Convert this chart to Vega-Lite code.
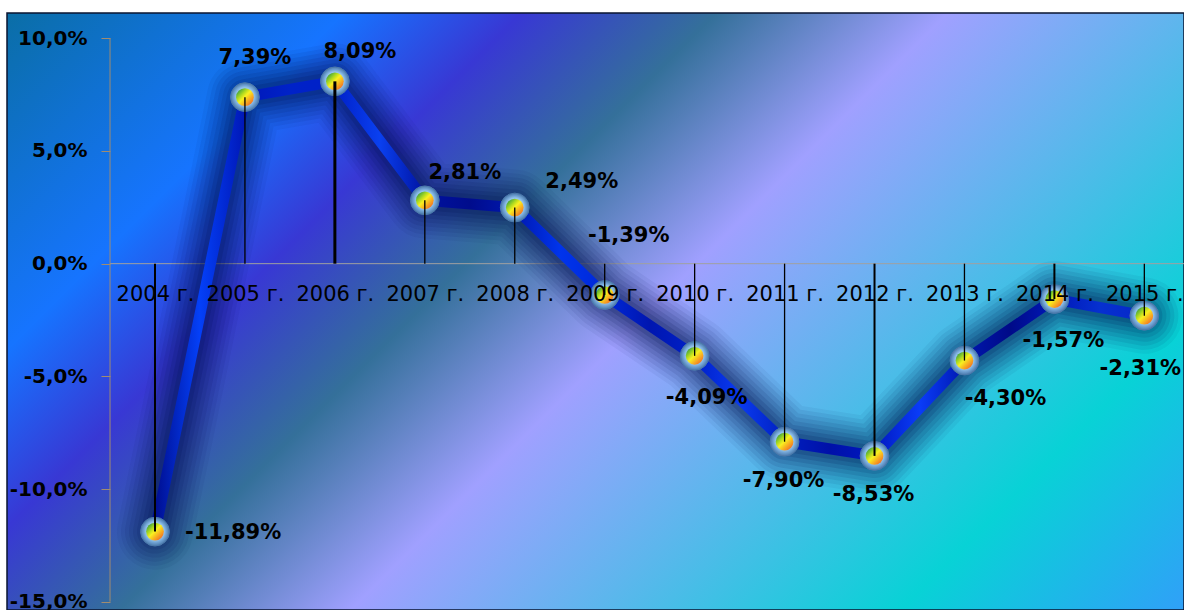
{
  "$schema": "https://vega.github.io/schema/vega-lite/v6.json",
  "width": 1177,
  "height": 597,
  "autosize": {"type": "none"},
  "padding": {"left": 7, "top": 13, "right": 0, "bottom": 0},
  "background": "#ffffff",
  "view": {
    "fill": {
      "gradient": "linear", "x1": 0, "y1": 0, "x2": 1.1987, "y2": 0.608,
      "stops": [
        {"offset": 0, "color": "#0a6ea6"},
        {"offset": 0.19, "color": "#1674ff"},
        {"offset": 0.29, "color": "#3838d4"},
        {"offset": 0.40, "color": "#34709a"},
        {"offset": 0.53, "color": "#a0a0ff"},
        {"offset": 0.84, "color": "#08d2d6"},
        {"offset": 1, "color": "#30a0f8"}
      ]
    },
    "stroke": "#0a1530",
    "strokeWidth": 1.5
  },
  "config": {
    "locale": {"number": {"decimal": ",", "thousands": " ", "grouping": [3], "currency": ["", ""], "minus": "-"}}
  },
  "data": {
    "values": [
      {"year": 2004, "value": -0.1189},
      {"year": 2005, "value": 0.0739},
      {"year": 2006, "value": 0.0809},
      {"year": 2007, "value": 0.0281},
      {"year": 2008, "value": 0.0249},
      {"year": 2009, "value": -0.0139},
      {"year": 2010, "value": -0.0409},
      {"year": 2011, "value": -0.0790},
      {"year": 2012, "value": -0.0853},
      {"year": 2013, "value": -0.0430},
      {"year": 2014, "value": -0.0157},
      {"year": 2015, "value": -0.0231}
    ]
  },
  "encoding": {
    "x": {
      "field": "year", "type": "quantitative", "title": null,
      "scale": {"domain": [2002.3545, 2015.441], "nice": false, "zero": false},
      "axis": {
        "title": null, "values": [2004, 2005, 2006, 2007, 2008, 2009, 2010, 2011, 2012, 2013, 2014, 2015],
        "labelExpr": "datum.value + ' г.'", "offset": -346.3, "domain": false, "ticks": false, "tickSize": 0,
        "grid": false, "labelFont": "DejaVu Sans", "labelFontSize": 21, "labelColor": "#000000",
        "labelPadding": 20, "labelFlush": false, "labelOverlap": false, "labelBound": false, "zindex": 1
      }
    },
    "y": {
      "field": "value", "type": "quantitative", "title": null,
      "scale": {"domain": [-0.15368, 0.11123], "nice": false, "zero": false},
      "axis": {
        "title": null, "values": [-0.15, -0.1, -0.05, 0, 0.05, 0.1], "format": ".1%", "offset": -103,
        "domain": false, "ticks": true, "tickSize": 9, "tickColor": "#a08c70", "tickWidth": 1, "grid": false,
        "labelFont": "DejaVu Sans", "labelFontWeight": "bold", "labelFontSize": 20, "labelColor": "#000000",
        "labelPadding": 14, "labelFlush": false, "labelOverlap": false, "labelBound": false
      }
    }
  },
  "layer": [
    {
      "transform": [{"filter": "datum.year == 2004"}],
      "mark": {"type": "rule", "color": "#a0a0a0", "strokeWidth": 1},
      "encoding": {
        "x": {"datum": 2003.5, "type": "quantitative", "title": null},
        "x2": {"datum": 2015.441},
        "y": {"datum": 0, "type": "quantitative", "title": null}
      }
    },
    {
      "transform": [{"filter": "datum.year == 2004"}],
      "mark": {"type": "rule", "color": "#a08c70", "strokeWidth": 1},
      "encoding": {
        "x": {"datum": 2003.5, "type": "quantitative", "title": null},
        "y": {"datum": -0.15, "type": "quantitative", "title": null},
        "y2": {"datum": 0.1}
      }
    },
    {"mark": {"type": "line", "color": "#001050", "strokeWidth": 76, "opacity": 0.05, "strokeJoin": "round", "strokeCap": "round"}, "encoding": {}},
    {"mark": {"type": "line", "color": "#001050", "strokeWidth": 68, "opacity": 0.07, "strokeJoin": "round", "strokeCap": "round"}, "encoding": {}},
    {"mark": {"type": "line", "color": "#001050", "strokeWidth": 60, "opacity": 0.08, "strokeJoin": "round", "strokeCap": "round"}, "encoding": {}},
    {"mark": {"type": "line", "color": "#001050", "strokeWidth": 52, "opacity": 0.09, "strokeJoin": "round", "strokeCap": "round"}, "encoding": {}},
    {"mark": {"type": "line", "color": "#001050", "strokeWidth": 44, "opacity": 0.1, "strokeJoin": "round", "strokeCap": "round"}, "encoding": {}},
    {"mark": {"type": "line", "color": "#001050", "strokeWidth": 36, "opacity": 0.12, "strokeJoin": "round", "strokeCap": "round"}, "encoding": {}},
    {"mark": {"type": "line", "color": "#001050", "strokeWidth": 28, "opacity": 0.14, "strokeJoin": "round", "strokeCap": "round"}, "encoding": {}},
    {"mark": {"type": "line", "color": "#001050", "strokeWidth": 20, "opacity": 0.16, "strokeJoin": "round", "strokeCap": "round"}, "encoding": {}},
    {
      "mark": {
        "type": "line", "strokeWidth": 11, "strokeJoin": "round",
        "stroke": {
          "gradient": "linear", "x1": 0, "y1": 0, "x2": 1, "y2": 0,
          "stops": [
            {"offset": 0, "color": "#000e90"}, {"offset": 0.045, "color": "#0440f8"},
            {"offset": 0.09, "color": "#0018b8"}, {"offset": 0.136, "color": "#0022c8"},
            {"offset": 0.182, "color": "#0020c8"}, {"offset": 0.227, "color": "#0a40f0"},
            {"offset": 0.273, "color": "#0012a0"}, {"offset": 0.318, "color": "#000c8c"},
            {"offset": 0.364, "color": "#0018b0"}, {"offset": 0.409, "color": "#0034ec"},
            {"offset": 0.455, "color": "#0028d8"}, {"offset": 0.5, "color": "#0016b0"},
            {"offset": 0.545, "color": "#0020c8"}, {"offset": 0.591, "color": "#0a3af0"},
            {"offset": 0.636, "color": "#0020c0"}, {"offset": 0.682, "color": "#0010a8"},
            {"offset": 0.727, "color": "#0018c0"}, {"offset": 0.773, "color": "#0a3cf8"},
            {"offset": 0.818, "color": "#0018b0"}, {"offset": 0.864, "color": "#000a88"},
            {"offset": 0.909, "color": "#0018b8"}, {"offset": 0.955, "color": "#0630d0"},
            {"offset": 1, "color": "#0628c8"}
          ]
        }
      },
      "encoding": {}
    },
    {
      "mark": {
        "type": "point", "shape": "circle", "filled": true, "size": 830, "opacity": 1,
        "stroke": "#4c7aac", "strokeWidth": 1,
        "fill": {
          "gradient": "radial", "x1": 0.5, "y1": 0.45, "r1": 0, "x2": 0.5, "y2": 0.5, "r2": 0.5,
          "stops": [
            {"offset": 0, "color": "#b0d8f4"}, {"offset": 0.62, "color": "#94c4ec"},
            {"offset": 0.8, "color": "#6c9ed0"}, {"offset": 1, "color": "#4a78aa"}
          ]
        }
      }
    },
    {
      "mark": {
        "type": "point", "shape": "circle", "filled": true, "size": 314, "opacity": 1,
        "fill": {
          "gradient": "linear", "x1": 0.1, "y1": 0.1, "x2": 0.9, "y2": 0.9,
          "stops": [
            {"offset": 0, "color": "#2f9a48"}, {"offset": 0.28, "color": "#a8d820"},
            {"offset": 0.48, "color": "#f8f020"}, {"offset": 0.72, "color": "#f8b020"},
            {"offset": 1, "color": "#f06828"}
          ]
        }
      }
    },
    {
      "mark": {"type": "rule", "color": "#000000"},
      "encoding": {
        "y": {"datum": 0, "type": "quantitative", "title": null},
        "y2": {"field": "value"},
        "strokeWidth": {
          "condition": [
            {"test": "datum.year == 2006", "value": 3},
            {"test": "datum.year == 2004 || datum.year == 2012 || datum.year == 2014", "value": 2}
          ],
          "value": 1.3
        }
      }
    },
    {
      "encoding": {"text": {"field": "value", "type": "quantitative", "format": ".2%"}},
      "layer": [
        {"transform": [{"filter": "datum.year == 2004"}], "mark": {"type": "text", "font": "DejaVu Sans", "fontWeight": "bold", "fontSize": 21, "color": "#000000", "align": "left", "baseline": "middle", "dx": 30, "dy": 1}},
        {"transform": [{"filter": "datum.year == 2005"}], "mark": {"type": "text", "font": "DejaVu Sans", "fontWeight": "bold", "fontSize": 21, "color": "#000000", "align": "center", "baseline": "middle", "dx": 10, "dy": -39}},
        {"transform": [{"filter": "datum.year == 2006"}], "mark": {"type": "text", "font": "DejaVu Sans", "fontWeight": "bold", "fontSize": 21, "color": "#000000", "align": "center", "baseline": "middle", "dx": 25, "dy": -29}},
        {"transform": [{"filter": "datum.year == 2007"}], "mark": {"type": "text", "font": "DejaVu Sans", "fontWeight": "bold", "fontSize": 21, "color": "#000000", "align": "center", "baseline": "middle", "dx": 40, "dy": -27}},
        {"transform": [{"filter": "datum.year == 2008"}], "mark": {"type": "text", "font": "DejaVu Sans", "fontWeight": "bold", "fontSize": 21, "color": "#000000", "align": "center", "baseline": "middle", "dx": 67, "dy": -26}},
        {"transform": [{"filter": "datum.year == 2009"}], "mark": {"type": "text", "font": "DejaVu Sans", "fontWeight": "bold", "fontSize": 21, "color": "#000000", "align": "center", "baseline": "middle", "dx": 24, "dy": -59}},
        {"transform": [{"filter": "datum.year == 2010"}], "mark": {"type": "text", "font": "DejaVu Sans", "fontWeight": "bold", "fontSize": 21, "color": "#000000", "align": "center", "baseline": "middle", "dx": 12, "dy": 42}},
        {"transform": [{"filter": "datum.year == 2011 || datum.year == 2012"}], "mark": {"type": "text", "font": "DejaVu Sans", "fontWeight": "bold", "fontSize": 21, "color": "#000000", "align": "center", "baseline": "middle", "dx": -1, "dy": 39}},
        {"transform": [{"filter": "datum.year == 2013"}], "mark": {"type": "text", "font": "DejaVu Sans", "fontWeight": "bold", "fontSize": 21, "color": "#000000", "align": "center", "baseline": "middle", "dx": 41, "dy": 38}},
        {"transform": [{"filter": "datum.year == 2014"}], "mark": {"type": "text", "font": "DejaVu Sans", "fontWeight": "bold", "fontSize": 21, "color": "#000000", "align": "center", "baseline": "middle", "dx": 9, "dy": 42}},
        {"transform": [{"filter": "datum.year == 2015"}], "mark": {"type": "text", "font": "DejaVu Sans", "fontWeight": "bold", "fontSize": 21, "color": "#000000", "align": "center", "baseline": "middle", "dx": -4, "dy": 53}}
      ]
    }
  ]
}
